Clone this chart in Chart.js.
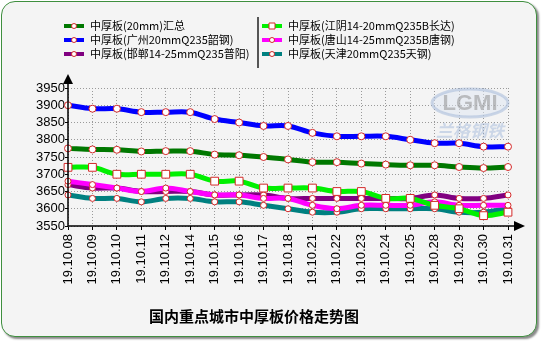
<!DOCTYPE html>
<html>
<head>
<meta charset="utf-8">
<script src="https://cdn.jsdelivr.net/npm/chart.js@4/dist/chart.umd.min.js"></script>
<style>
    html, body { margin: 0; padding: 0; background: #fff; }
    #wrap { position: relative; width: 541px; height: 341px; }
    #frame {
        position: absolute; left: 1px; top: 1px; width: 534px; height: 334px;
        border: 1px solid #3f8f3f; border-radius: 14px; background: #f4f4f4;
        box-shadow: 2px 2px 2px #8a8a8a;
    }
    #chart { position: absolute; left: 0; top: 0; }
</style>
</head>
<body>
<div id="wrap">
    <div id="frame"></div>
    <canvas id="chart" width="541" height="341"></canvas>
</div>
<script>
const Dates = ['19.10.08', '19.10.09', '19.10.10', '19.10.11', '19.10.12', '19.10.14', '19.10.15', '19.10.16', '19.10.17', '19.10.18',
    '19.10.21', '19.10.22', '19.10.23', '19.10.24', '19.10.25', '19.10.28', '19.10.29', '19.10.30', '19.10.31'];
const Huizong = [3775, 3772, 3771, 3766, 3767, 3767, 3757, 3755, 3750, 3743, 3735, 3735, 3731, 3728, 3726, 3726, 3721, 3718, 3721];
const Guangzhou = [3900, 3890, 3890, 3880, 3880, 3880, 3860, 3850, 3840, 3840, 3820, 3810, 3810, 3810, 3800, 3790, 3790, 3780, 3780];
const Handan = [3670, 3660, 3660, 3650, 3650, 3650, 3640, 3640, 3640, 3630, 3630, 3630, 3630, 3630, 3630, 3640, 3630, 3630, 3640];
const Jiangyin = [3720, 3720, 3700, 3700, 3700, 3700, 3680, 3680, 3660, 3660, 3660, 3650, 3650, 3630, 3630, 3610, 3600, 3580, 3590];
const Tangshan = [3680, 3670, 3660, 3650, 3660, 3650, 3640, 3640, 3630, 3630, 3610, 3600, 3610, 3610, 3610, 3620, 3610, 3610, 3610];
const Tianjin = [3640, 3630, 3630, 3620, 3630, 3630, 3620, 3620, 3610, 3600, 3590, 3590, 3600, 3600, 3600, 3600, 3590, 3590, 3600];
const Series_Names = ['中厚板(20mm)汇总', '中厚板(广州20mmQ235韶钢)', '中厚板(邯郸14-25mmQ235普阳)',
    '中厚板(江阴14-20mmQ235B长达)', '中厚板(唐山14-25mmQ235B唐钢)', '中厚板(天津20mmQ235天钢)'];
const Series_Colors = ['#007800', '#0000ff', '#800080', '#00f000', '#ff00ff', '#008080'];
const Y_Min = 3550, Y_Max = 3950, Y_Step = 50;
const Title_Text = '国内重点城市中厚板价格走势图';

const MARKER = '#d42a2a';
const CJK = '"Noto Sans CJK SC", sans-serif';

function makeSet(index, values, pointStyle, radius, order) {
    return {
        label: Series_Names[index],
        data: values,
        borderColor: Series_Colors[index],
        backgroundColor: Series_Colors[index],
        borderWidth: 5,
        tension: 0.35,
        pointStyle: pointStyle,
        pointRadius: radius,
        pointBackgroundColor: '#fff',
        pointBorderColor: MARKER,
        pointBorderWidth: 1,
        order: order
    };
}

// axes with arrows, legend box and the watermark
const framePlugin = {
    id: 'frame',
    beforeDatasetsDraw(chart) {
        const ctx = chart.ctx;
        ctx.save();
        ctx.globalAlpha = 0.5;
        ctx.beginPath();
        ctx.ellipse(470, 103, 38, 14, 0, 0, Math.PI * 2);
        ctx.fillStyle = '#dde6f2';
        ctx.fill();
        ctx.lineWidth = 3;
        ctx.strokeStyle = '#9fb6d8';
        ctx.stroke();
        ctx.fillStyle = '#8a8a8a';
        ctx.font = 'bold 22px "Liberation Sans"';
        ctx.textAlign = 'center';
        ctx.textBaseline = 'middle';
        ctx.fillText('LGMI', 470, 104);
        ctx.globalAlpha = 0.4;
        ctx.fillStyle = '#8fa9d4';
        ctx.font = 'italic bold 17px ' + CJK;
        ctx.fillText('兰格钢铁', 470, 131);
        ctx.restore();
    },
    afterDraw(chart) {
        const ctx = chart.ctx;
        const area = chart.chartArea;
        ctx.save();
        ctx.strokeStyle = '#000';
        ctx.fillStyle = '#000';
        ctx.lineWidth = 1.5;
        ctx.beginPath();
        ctx.moveTo(area.left, area.bottom);
        ctx.lineTo(area.left, area.top - 4);
        ctx.moveTo(area.left, area.bottom);
        ctx.lineTo(area.right + 6, area.bottom);
        ctx.stroke();
        ctx.beginPath();
        ctx.moveTo(area.left, area.top - 14);
        ctx.lineTo(area.left - 5, area.top - 4);
        ctx.lineTo(area.left + 5, area.top - 4);
        ctx.fill();
        ctx.beginPath();
        ctx.moveTo(area.right + 17, area.bottom);
        ctx.lineTo(area.right + 6, area.bottom - 5);
        ctx.lineTo(area.right + 6, area.bottom + 5);
        ctx.fill();

        // legend, two columns of three
        const cols = [[0, 1, 2], [3, 4, 5]];
        const colX = [64, 262];
        const rowY = [26, 40, 54];
        ctx.font = '11px ' + CJK;
        ctx.textBaseline = 'middle';
        ctx.textAlign = 'left';
        cols.forEach((col, c) => {
            col.forEach((i, r) => {
                const ds = chart.data.datasets[i];
                const x = colX[c], y = rowY[r];
                ctx.strokeStyle = ds.borderColor;
                ctx.lineWidth = 4;
                ctx.beginPath();
                ctx.moveTo(x, y);
                ctx.lineTo(x + 20, y);
                ctx.stroke();
                ctx.lineWidth = 1;
                ctx.strokeStyle = MARKER;
                ctx.fillStyle = '#fff';
                ctx.beginPath();
                if (ds.pointStyle === 'rect') ctx.rect(x + 7, y - 3, 6, 6);
                else ctx.arc(x + 10, y, 2.5, 0, Math.PI * 2);
                ctx.fill();
                ctx.stroke();
                ctx.fillStyle = '#000';
                ctx.fillText(ds.label, x + 26, y);
            });
        });
        ctx.strokeStyle = '#555';
        ctx.lineWidth = 2;
        ctx.beginPath();
        ctx.moveTo(258, 17);
        ctx.lineTo(258, 68);
        ctx.stroke();
        ctx.restore();
    }
};

const Chart_Price = new Chart(document.querySelector('#chart'), {
    type: 'line',
    data: {
        labels: Dates,
        datasets: [
            makeSet(0, Huizong, 'circle', 3.5, 1),
            makeSet(1, Guangzhou, 'circle', 3.5, 0),
            makeSet(2, Handan, 'circle', 3, 4),
            makeSet(3, Jiangyin, 'rect', 5.5, 2),
            makeSet(4, Tangshan, 'circle', 3, 3),
            makeSet(5, Tianjin, 'circle', 3, 5)
        ]
    },
    options: {
        responsive: false,
        animation: false,
        layout: { padding: { top: 88, right: 33, left: 0, bottom: 0 } },
        scales: {
            x: {
                afterFit: (scale) => { scale.height = 81; },
                grid: { color: '#9a9a9a', tickColor: '#000', tickLength: 4, tickBorderDash: [] },
                border: { display: false, dash: [1, 2] },
                ticks: {
                    autoSkip: false, minRotation: 90, maxRotation: 90, padding: 4, color: '#000',
                    font: { family: 'Liberation Sans', size: 13 }
                }
            },
            y: {
                min: Y_Min,
                max: Y_Max,
                afterFit: (scale) => { scale.width = 68; },
                grid: { color: '#9a9a9a', tickColor: '#000', tickLength: 3, tickBorderDash: [] },
                border: { display: false, dash: [1, 2] },
                ticks: {
                    stepSize: Y_Step, autoSkip: false, padding: 0, color: '#000',
                    font: { family: 'Liberation Sans', size: 13 },
                    callback: (value) => String(value)
                }
            }
        },
        plugins: {
            legend: { display: false },
            tooltip: { enabled: false },
            title: {
                display: true,
                text: Title_Text,
                position: 'bottom',
                color: '#000',
                font: { family: CJK, size: 15, weight: 'bold' },
                padding: { top: 0, bottom: 16 }
            }
        }
    },
    plugins: [framePlugin]
});
</script>
</body>
</html>
